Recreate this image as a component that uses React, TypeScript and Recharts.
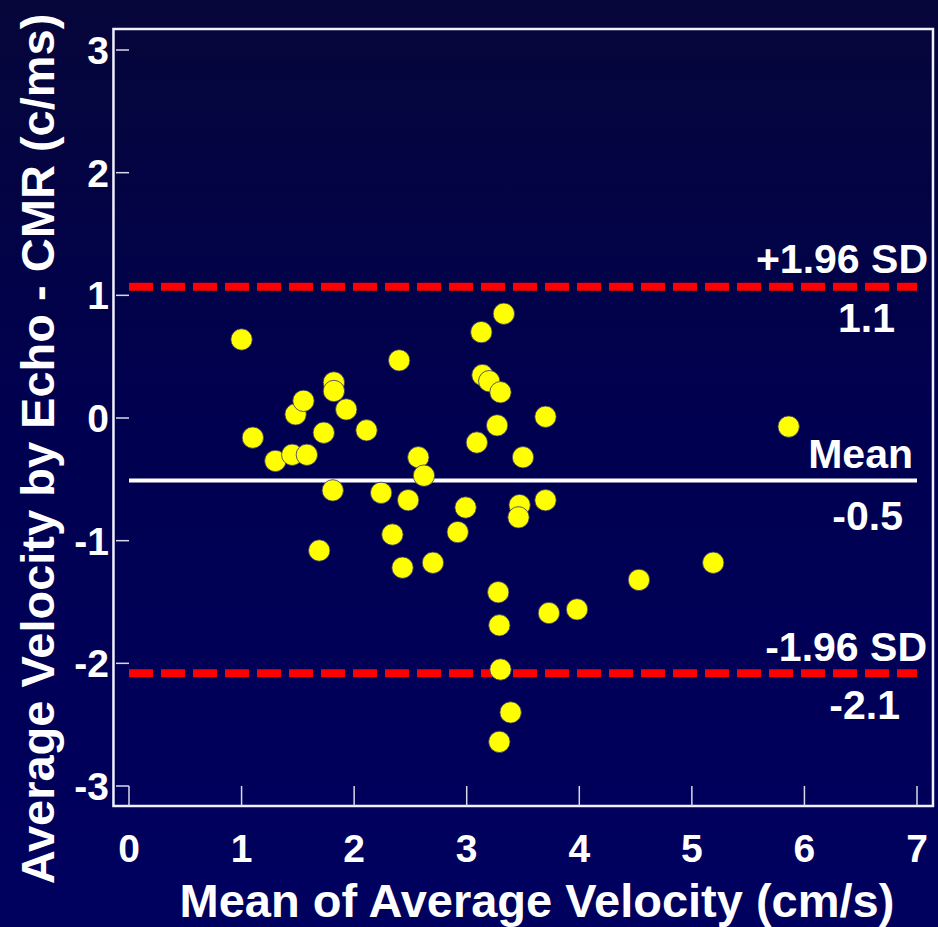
import React from 'react';
import {
  ScatterChart,
  Scatter,
  XAxis,
  YAxis,
  ReferenceLine,
  ReferenceArea,
} from 'recharts';

// Mean of average velocity (cm/s)
const meanVelocity = [
  1.0, 1.1, 1.3, 1.45, 1.48, 1.55, 1.58, 1.69, 1.73, 1.82, 1.82, 1.81, 1.93,
  2.11, 2.24, 2.34, 2.4, 2.43, 2.48, 2.57, 2.62, 2.7, 2.92, 2.99, 3.09, 3.13,
  3.14, 3.2, 3.3, 3.33, 3.27, 3.28, 3.29, 3.3, 3.39, 3.29, 3.5, 3.47, 3.46,
  3.7, 3.7, 3.73, 3.98, 4.53, 5.19, 5.86,
];
// Difference Echo - CMR
const difference = [
  0.64, -0.16, -0.35, -0.3, 0.03, 0.14, -0.3, -1.08, -0.12, 0.29, 0.22, -0.59,
  0.07, -0.1, -0.61, -0.95, 0.47, -1.22, -0.67, -0.32, -0.47, -1.18, -0.93,
  -0.73, -0.2, 0.7, 0.35, 0.3, 0.21, 0.85, -0.06, -1.42, -1.69, -2.05, -2.4,
  -2.64, -0.32, -0.71, -0.81, 0.01, -0.67, -1.59, -1.56, -1.32, -1.18, -0.07,
];

const xTicks = [0, 1, 2, 3, 4, 5, 6, 7];
const yTicks = [-3, -2, -1, 0, 1, 2, 3];

const meanDiff = -0.51;
const upperLimit = 1.07;
const lowerLimit = -2.08;

const meanLabel = 'Mean';
const meanValueLabel = '-0.5';
const upperLabel = '+1.96 SD';
const upperValueLabel = '1.1';
const lowerLabel = '-1.96 SD';
const lowerValueLabel = '-2.1';

const xTitle = 'Mean of Average Velocity (cm/s)';
const yTitle = 'Average Velocity by Echo - CMR (c/ms)';

const data = meanVelocity.map((x, i) => ({ x, y: difference[i] }));

const FONT = '"Liberation Sans", Arial, sans-serif';

const makeLineLabel =
  (above: string, below: string, dxAbove: number, dxBelow: number, upOff: number, downOff: number) =>
  (props: any) => {
    const vb = props.viewBox || {};
    const right = (vb.x || 0) + (vb.width || 0);
    const y = vb.y || 0;
    return (
      <g>
        <text
          x={right + dxAbove}
          y={y - upOff}
          textAnchor="end"
          fill="#ffffff"
          fontFamily={FONT}
          fontWeight="bold"
          fontSize={41}
        >
          {above}
        </text>
        <text
          x={right + dxBelow}
          y={y + downOff}
          textAnchor="end"
          fill="#ffffff"
          fontFamily={FONT}
          fontWeight="bold"
          fontSize={41}
        >
          {below}
        </text>
      </g>
    );
  };

const Dot = (props: any) => {
  const { cx, cy } = props;
  if (cx == null || cy == null) return null;
  return <circle cx={cx} cy={cy} r={10.7} fill="#ffff00" stroke="#303070" strokeWidth={0.8} />;
};

export default function App() {
  return (
    <div
      style={{
        position: 'absolute',
        left: 0,
        top: 0,
        width: 938,
        height: 927,
        background: 'linear-gradient(to bottom, #06063a 0%, #000050 45%, #000060 100%)',
      }}
    >
      <ScatterChart
        width={938}
        height={927}
        margin={{ top: 50, right: 21, left: 0, bottom: 0 }}
      >
        <XAxis
          type="number"
          dataKey="x"
          domain={[0, 7]}
          ticks={xTicks}
          allowDataOverflow
          axisLine={false}
          tickLine={{ stroke: '#d8d8e8', strokeWidth: 1.5 }}
          tickSize={20}
          tickMargin={28}
          height={141}
          tick={{ fill: '#ffffff', fontFamily: FONT, fontWeight: 'bold', fontSize: 39 }}
          label={(props: any) => {
            const vb = props.viewBox || {};
            const cx = (vb.x || 0) + (vb.width || 0) / 2 + 14;
            return (
              <text
                x={cx}
                y={917}
                textAnchor="middle"
                fill="#ffffff"
                fontFamily={FONT}
                fontWeight="bold"
                fontSize={47}
              >
                {xTitle}
              </text>
            );
          }}
        />
        <YAxis
          type="number"
          dataKey="y"
          domain={[-3, 3]}
          ticks={yTicks}
          allowDataOverflow
          axisLine={false}
          width={129}
          tickLine={{ stroke: '#d8d8e8', strokeWidth: 1.5 }}
          tickSize={13}
          tickMargin={7}
          tick={{ fill: '#ffffff', fontFamily: FONT, fontWeight: 'bold', fontSize: 39 }}
          label={(props: any) => {
            const vb = props.viewBox || {};
            const cy = (vb.y || 0) + (vb.height || 0) / 2 + 31;
            const x = 54;
            return (
              <text
                x={x}
                y={cy}
                transform={`rotate(-90, ${x}, ${cy})`}
                textAnchor="middle"
                fill="#ffffff"
                fontFamily={FONT}
                fontWeight="bold"
                fontSize={47}
              >
                {yTitle}
              </text>
            );
          }}
        />
        <ReferenceArea
          x1={-0.138}
          x2={7.142}
          y1={-3.164}
          y2={3.172}
          ifOverflow="visible"
          fill="none"
          fillOpacity={0}
          stroke="#f0f0ff"
          strokeWidth={2.5}
        />
        <ReferenceLine
          y={upperLimit}
          stroke="#ff0000"
          strokeWidth={8}
          strokeDasharray="24 8"
          label={makeLineLabel(upperLabel, upperValueLabel, 11, -22, 14, 45)}
        />
        <ReferenceLine
          y={lowerLimit}
          stroke="#ff0000"
          strokeWidth={8}
          strokeDasharray="24 8"
          label={makeLineLabel(lowerLabel, lowerValueLabel, 10, -17, 12, 46)}
        />
        <ReferenceLine
          y={meanDiff}
          stroke="#ffffff"
          strokeWidth={4}
          label={makeLineLabel(meanLabel, meanValueLabel, -4, -14, 13, 49)}
        />
        <Scatter data={data} shape={Dot} isAnimationActive={false} />
      </ScatterChart>
    </div>
  );
}
